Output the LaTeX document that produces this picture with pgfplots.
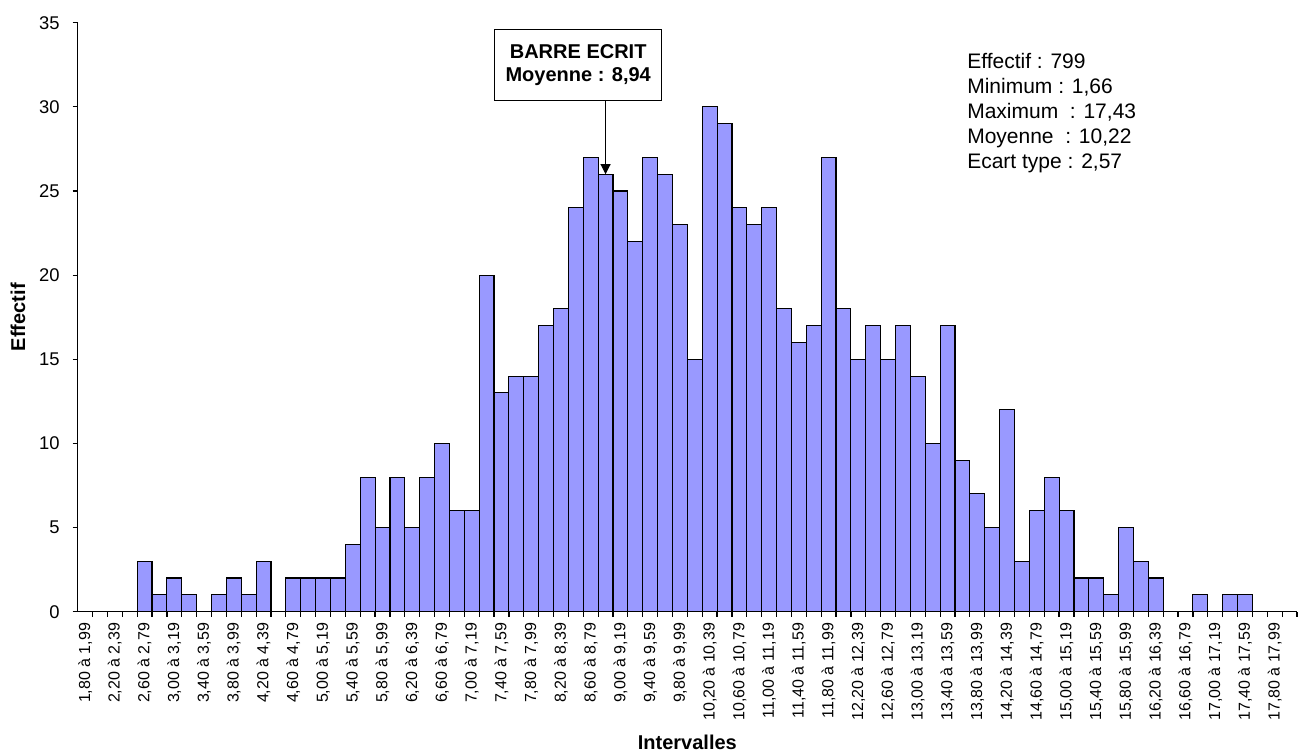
\documentclass[border=0pt]{standalone}
\usepackage{pgfplots}
\pgfplotsset{compat=1.18}
\usepackage{pgfplotstable}
\usepackage{fontspec}
\setmainfont{Liberation Sans}
\usetikzlibrary{arrows.meta}
\definecolor{barfill}{HTML}{9999FF}

\pgfplotstableread{
x y
0.5 0
1.5 0
2.5 0
3.5 0
4.5 3
5.5 1
6.5 2
7.5 1
8.5 0
9.5 1
10.5 2
11.5 1
12.5 3
13.5 0
14.5 2
15.5 2
16.5 2
17.5 2
18.5 4
19.5 8
20.5 5
21.5 8
22.5 5
23.5 8
24.5 10
25.5 6
26.5 6
27.5 20
28.5 13
29.5 14
30.5 14
31.5 17
32.5 18
33.5 24
34.5 27
35.5 26
36.5 25
37.5 22
38.5 27
39.5 26
40.5 23
41.5 15
42.5 30
43.5 29
44.5 24
45.5 23
46.5 24
47.5 18
48.5 16
49.5 17
50.5 27
51.5 18
52.5 15
53.5 17
54.5 15
55.5 17
56.5 14
57.5 10
58.5 17
59.5 9
60.5 7
61.5 5
62.5 12
63.5 3
64.5 6
65.5 8
66.5 6
67.5 2
68.5 2
69.5 1
70.5 5
71.5 3
72.5 2
73.5 0
74.5 0
75.5 1
76.5 0
77.5 1
78.5 1
79.5 0
80.5 0
}\histdata

\begin{document}
\begin{tikzpicture}
\path[use as bounding box] (-38.85pt,-70.65pt) rectangle (610.15pt,305.85pt);
\begin{axis}[
  scale only axis,
  width=609.65pt, height=294.5pt,
  xmin=0, xmax=82, ymin=0, ymax=35,
  clip=false,
  axis x line*=bottom, axis y line*=left,
  axis line style={line width=0.6pt, black},
  tick style={line width=0.6pt, black},
  tick align=outside,
  major tick length=2.5pt,
  ytick={0,5,...,35},
  yticklabel style={font=\fontsize{9.2}{9.2}\selectfont, xshift=-3pt},
  /pgf/number format/assume math mode=true,
  xtick={1,...,82},
  xticklabels={},
  extra x ticks={0.5,2.5,...,80.5},
  extra x tick labels={{1,80 à 1,99},{2,20 à 2,39},{2,60 à 2,79},{3,00 à 3,19},{3,40 à 3,59},{3,80 à 3,99},{4,20 à 4,39},{4,60 à 4,79},{5,00 à 5,19},{5,40 à 5,59},{5,80 à 5,99},{6,20 à 6,39},{6,60 à 6,79},{7,00 à 7,19},{7,40 à 7,59},{7,80 à 7,99},{8,20 à 8,39},{8,60 à 8,79},{9,00 à 9,19},{9,40 à 9,59},{9,80 à 9,99},{10,20 à 10,39},{10,60 à 10,79},{11,00 à 11,19},{11,40 à 11,59},{11,80 à 11,99},{12,20 à 12,39},{12,60 à 12,79},{13,00 à 13,19},{13,40 à 13,59},{13,80 à 13,99},{14,20 à 14,39},{14,60 à 14,79},{15,00 à 15,19},{15,40 à 15,59},{15,80 à 15,99},{16,20 à 16,39},{16,60 à 16,79},{17,00 à 17,19},{17,40 à 17,59},{17,80 à 17,99}},
  extra x tick style={major tick length=0pt, tick label style={rotate=90, anchor=east, font=\fontsize{8}{8}\selectfont, inner xsep=5.4pt}},
  xlabel={\bfseries Intervalles},
  xlabel style={at={(axis description cs:0.5,-0.2224)}, anchor=center, font=\fontsize{10}{10}\selectfont},
  ylabel={\bfseries Effectif},
  ylabel style={at={(axis description cs:-0.049,0.5)}, anchor=center, rotate=0, font=\fontsize{10}{10}\selectfont},
]
\addplot[ybar, bar width=1, fill=barfill, draw=black, line width=0.55pt] table[x=x,y=y]{\histdata};

\node[draw=black, fill=white, line width=0.5pt, minimum width=83.5pt, minimum height=35.5pt, align=center, inner sep=0pt, font=\bfseries\fontsize{10}{11.5}\selectfont] at (axis cs:33.66,32.51) {BARRE ECRIT\\Moyenne : 8,94};
\draw[line width=0.5pt, -{Triangle[width=5pt,length=5pt]}] (axis cs:35.5,30.4) -- (axis cs:35.5,26);

\node[anchor=base west, inner sep=0pt, font=\fontsize{10.5}{10.5}\selectfont] at (axis cs:59.8,32.28) {Effectif : 799};
\node[anchor=base west, inner sep=0pt, font=\fontsize{10.5}{10.5}\selectfont] at (axis cs:59.8,30.80) {Minimum : 1,66};
\node[anchor=base west, inner sep=0pt, font=\fontsize{10.5}{10.5}\selectfont] at (axis cs:59.8,29.32) {Maximum~~: 17,43};
\node[anchor=base west, inner sep=0pt, font=\fontsize{10.5}{10.5}\selectfont] at (axis cs:59.8,27.84) {Moyenne~~: 10,22};
\node[anchor=base west, inner sep=0pt, font=\fontsize{10.5}{10.5}\selectfont] at (axis cs:59.8,26.36) {Ecart type : 2,57};
\end{axis}
\end{tikzpicture}
\end{document}
